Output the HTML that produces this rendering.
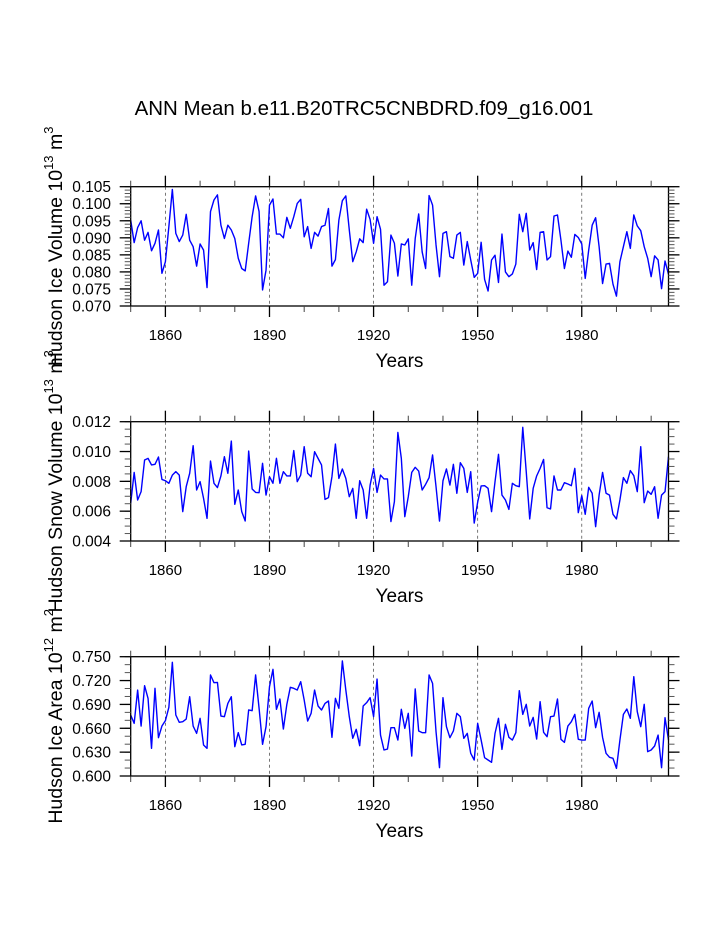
<!DOCTYPE html>
<html><head><meta charset="utf-8"><style>
html,body{margin:0;padding:0;background:#fff}
svg{display:block;font-family:"Liberation Sans",Arial,sans-serif}
</style></head><body>
<svg id="chart" width="723" height="935" viewBox="0 0 723 935" xmlns="http://www.w3.org/2000/svg">
<text x="364" y="115" font-size="20.5" text-anchor="middle">ANN Mean b.e11.B20TRC5CNBDRD.f09_g16.001</text>
</svg>
<script>
const startYear = 1850;
const endYear = 2005;
const xTickYears = [1860, 1890, 1920, 1950, 1980];
const iceVolume = [0.0952,0.0886,0.0930,0.0950,0.0893,0.0916,0.0862,0.0884,0.0923,0.0796,0.0830,0.0933,0.1042,0.0913,0.0889,0.0908,0.0969,0.0893,0.0874,0.0817,0.0882,0.0864,0.0754,0.0977,0.1011,0.1026,0.0937,0.0898,0.0937,0.0923,0.0898,0.0840,0.0810,0.0803,0.0884,0.0962,0.1023,0.0977,0.0747,0.0805,0.0996,0.1014,0.0911,0.0911,0.0900,0.0960,0.0928,0.0962,0.1001,0.1013,0.0903,0.0933,0.0869,0.0916,0.0905,0.0933,0.0937,0.0986,0.0817,0.0836,0.0952,0.1009,0.1023,0.0923,0.0830,0.0859,0.0897,0.0886,0.0984,0.0954,0.0884,0.0962,0.0925,0.0761,0.0771,0.0908,0.0884,0.0788,0.0882,0.0879,0.0897,0.0761,0.0898,0.0970,0.0859,0.0810,0.1024,0.0996,0.0879,0.0786,0.0913,0.0918,0.0845,0.0840,0.0908,0.0916,0.0820,0.0889,0.0835,0.0784,0.0796,0.0887,0.0778,0.0744,0.0835,0.0849,0.0769,0.0911,0.0800,0.0786,0.0794,0.0823,0.0969,0.0918,0.0972,0.0864,0.0886,0.0807,0.0916,0.0918,0.0835,0.0845,0.0964,0.0967,0.0893,0.0810,0.0861,0.0843,0.0910,0.0901,0.0882,0.0781,0.0864,0.0937,0.0959,0.0874,0.0766,0.0823,0.0825,0.0764,0.0729,0.0830,0.0874,0.0918,0.0869,0.0967,0.0935,0.0921,0.0874,0.0840,0.0786,0.0847,0.0835,0.0751,0.0832,0.0793];
const snowVolume = [0.00653,0.00860,0.00675,0.00731,0.00943,0.00954,0.00910,0.00914,0.00963,0.00813,0.00804,0.00787,0.00842,0.00865,0.00842,0.00597,0.00764,0.00854,0.01039,0.00742,0.00798,0.00686,0.00552,0.00936,0.00787,0.00758,0.00836,0.00965,0.00854,0.01070,0.00646,0.00742,0.00597,0.00534,0.01003,0.00749,0.00726,0.00724,0.00921,0.00708,0.00831,0.00787,0.00954,0.00787,0.00865,0.00836,0.00836,0.01006,0.00798,0.00842,0.01032,0.00854,0.00831,0.00999,0.00954,0.00910,0.00679,0.00691,0.00831,0.01050,0.00820,0.00883,0.00820,0.00697,0.00753,0.00552,0.00804,0.00742,0.00552,0.00775,0.00887,0.00726,0.00842,0.00816,0.00816,0.00530,0.00664,0.01128,0.00954,0.00563,0.00697,0.00860,0.00894,0.00869,0.00742,0.00780,0.00825,0.00977,0.00764,0.00534,0.00804,0.00883,0.00775,0.00914,0.00720,0.00925,0.00887,0.00726,0.00865,0.00520,0.00660,0.00769,0.00771,0.00753,0.00597,0.00798,0.00981,0.00708,0.00675,0.00612,0.00787,0.00771,0.00764,0.01162,0.00865,0.00548,0.00753,0.00836,0.00887,0.00947,0.00623,0.00615,0.00836,0.00742,0.00742,0.00791,0.00782,0.00771,0.00887,0.00590,0.00704,0.00579,0.00760,0.00720,0.00496,0.00708,0.00860,0.00720,0.00708,0.00579,0.00548,0.00675,0.00825,0.00787,0.00872,0.00838,0.00731,0.01032,0.00657,0.00735,0.00713,0.00764,0.00552,0.00708,0.00731,0.00965];
const iceArea = [0.6767,0.6662,0.7081,0.6628,0.7135,0.6976,0.6348,0.7102,0.6482,0.6628,0.6696,0.6863,0.7429,0.6767,0.6675,0.6683,0.6716,0.6997,0.6628,0.6536,0.6725,0.6390,0.6348,0.7270,0.7173,0.7177,0.6754,0.6746,0.6913,0.6997,0.6369,0.6545,0.6390,0.6398,0.6830,0.6821,0.7270,0.6851,0.6398,0.6620,0.7123,0.7341,0.6838,0.6968,0.6591,0.6901,0.7115,0.7102,0.7081,0.7186,0.6955,0.6691,0.6788,0.7081,0.6880,0.6830,0.6913,0.6943,0.6486,0.6976,0.6851,0.7446,0.7081,0.6746,0.6474,0.6587,0.6381,0.6880,0.6922,0.6985,0.6746,0.7219,0.6515,0.6327,0.6339,0.6608,0.6608,0.6452,0.6838,0.6599,0.6788,0.6251,0.7094,0.6566,0.6545,0.6545,0.7270,0.7165,0.6557,0.6105,0.6985,0.6620,0.6482,0.6566,0.6788,0.6746,0.6474,0.6536,0.6285,0.6201,0.6662,0.6452,0.6230,0.6201,0.6172,0.6536,0.6725,0.6335,0.6649,0.6486,0.6452,0.6545,0.7073,0.6775,0.6901,0.6628,0.6737,0.6465,0.6934,0.6549,0.6494,0.6746,0.6754,0.6968,0.6461,0.6423,0.6628,0.6683,0.6775,0.6461,0.6452,0.6452,0.6851,0.6943,0.6608,0.6800,0.6486,0.6285,0.6235,0.6222,0.6096,0.6452,0.6775,0.6842,0.6725,0.7249,0.6809,0.6620,0.6901,0.6306,0.6327,0.6377,0.6515,0.6105,0.6733,0.6452];
const volTicks = ["0.070","0.075","0.080","0.085","0.090","0.095","0.100","0.105"];
const snowTicks = ["0.004","0.006","0.008","0.010","0.012"];
const areaTicks = ["0.600","0.630","0.660","0.690","0.720","0.750"];

const NS = "http://www.w3.org/2000/svg";
const svg = document.getElementById('chart');
const X0 = 130.7, X1 = 668.5;
function xScale(yr){ return X0 + (yr - startYear) / (endYear - startYear) * (X1 - X0); }
function mk(tag, attrs, parent){
  const e = document.createElementNS(NS, tag);
  for (const k in attrs) e.setAttribute(k, attrs[k]);
  (parent || svg).appendChild(e);
  return e;
}
const panels = [
  {key:'ice-volume', top:186.7, bot:306, vals:iceVolume, ticks:volTicks, minorStep:0.001, title:['Hudson Ice Volume 10','13',' m','3']},
  {key:'snow-volume', top:421.7, bot:541, vals:snowVolume, ticks:snowTicks, minorStep:0.0005, title:['Hudson Snow Volume 10','13',' m','3']},
  {key:'ice-area', top:656.7, bot:776, vals:iceArea, ticks:areaTicks, minorStep:0.01, title:['Hudson Ice Area 10','12',' m','2']}
];
panels.forEach(p => {
  const g = mk('g', {});
  
  
  const ymin = parseFloat(p.ticks[0]), ymax = parseFloat(p.ticks[p.ticks.length-1]);
  const yScale = v => p.bot - (v - ymin) / (ymax - ymin) * (p.bot - p.top);
  xTickYears.forEach(yr => {
    const l = mk('line', {x1:xScale(yr), x2:xScale(yr), y1:p.top, y2:p.bot, stroke:'#555', 'stroke-width':0.8, 'stroke-dasharray':'3,3'}, g);
    
    
  });
  const pts = p.vals.map((v,i) => xScale(startYear + i).toFixed(2) + ',' + yScale(v).toFixed(2)).join(' ');
  const pl = mk('polyline', {points:pts, fill:'none', stroke:'#0000ff', 'stroke-width':1.4, 'stroke-linejoin':'round'}, g);
  
  
  const fr = mk('rect', {x:X0, y:p.top, width:X1-X0, height:p.bot-p.top, fill:'none', stroke:'#000', 'stroke-width':1.3}, g);
  
  
  for (let yr = 1850; yr <= endYear; yr += 10) {
    const major = xTickYears.includes(yr);
    const len = major ? 11 : 6;
    const x = xScale(yr);
    mk('line', {x1:x, x2:x, y1:p.bot, y2:p.bot+len, stroke:major?'#000':'#444', 'stroke-width':major?1.3:1}, g);
    mk('line', {x1:x, x2:x, y1:p.top, y2:p.top-len, stroke:major?'#000':'#444', 'stroke-width':major?1.3:1}, g);
  }
  xTickYears.forEach(yr => {
    const t = mk('text', {x:xScale(yr), y:p.bot+34, 'font-size':15, 'text-anchor':'middle'}, g);
    t.textContent = yr;
    
    
  });
  const xt = mk('text', {x:399.5, y:p.bot+61, 'font-size':19, 'text-anchor':'middle'}, g);
  xt.textContent = 'Years';
  
  
  const nMinor = Math.round((ymax - ymin) / p.minorStep);
  for (let i = 0; i <= nMinor; i++) {
    const y = yScale(ymin + i * p.minorStep);
    mk('line', {x1:X0, x2:X0-6, y1:y, y2:y, stroke:'#555', 'stroke-width':1}, g);
    mk('line', {x1:X1, x2:X1+6, y1:y, y2:y, stroke:'#555', 'stroke-width':1}, g);
  }
  p.ticks.forEach(lbl => {
    const y = yScale(parseFloat(lbl));
    mk('line', {x1:X0, x2:X0-11, y1:y, y2:y, stroke:'#000', 'stroke-width':1.3}, g);
    mk('line', {x1:X1, x2:X1+11, y1:y, y2:y, stroke:'#000', 'stroke-width':1.3}, g);
    const t = mk('text', {x:111, y:y+5.5, 'font-size':15.5, 'text-anchor':'end'}, g);
    t.textContent = lbl;
    
    
  });
  const cy = (p.top + p.bot) / 2;
  const yt = mk('text', {x:0, y:0, 'font-size':19.5, 'text-anchor':'middle', transform:'translate(62,' + cy + ') rotate(-90)'}, g);
  
  
  const s1 = mk('tspan', {}, yt); s1.textContent = p.title[0];
  const s2 = mk('tspan', {dy:-9, 'font-size':13}, yt); s2.textContent = p.title[1];
  const s3 = mk('tspan', {dy:9}, yt); s3.textContent = p.title[2];
  const s4 = mk('tspan', {dy:-9, 'font-size':13}, yt); s4.textContent = p.title[3];
});
</script>
</body></html>
